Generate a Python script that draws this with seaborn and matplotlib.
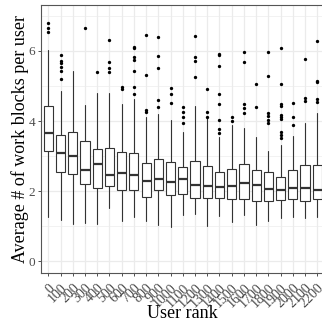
import pandas as pd
import matplotlib
matplotlib.use("Agg")
import matplotlib.pyplot as plt
import seaborn as sns

# values (box stats per user rank bucket)
ranks = ["0", "100", "200", "300", "400", "500", "600", "700", "800", "900",
         "1000", "1100", "1200", "1300", "1400", "1500", "1600", "1700",
         "1800", "1900", "2000", "2100", "2200"]
whislo = [1.25, 1.17, 1.06, 1.10, 1.05, 1.52, 1.14, 1.27, 1.14, 1.04, 0.98, 1.31,
          1.33, 1.00, 1.30, 1.12, 1.31, 1.04, 1.13, 1.23, 1.27, 1.23, 1.27]
q1 = [3.14, 2.54, 2.50, 2.21, 2.09, 2.13, 2.04, 2.03, 1.84, 2.02, 1.89, 1.91,
      1.80, 1.80, 1.80, 1.77, 1.78, 1.71, 1.71, 1.73, 1.76, 1.72, 1.76]
med = [3.65, 3.10, 2.99, 2.61, 2.76, 2.45, 2.52, 2.47, 2.30, 2.35, 2.27, 2.33,
       2.18, 2.14, 2.11, 2.15, 2.24, 2.17, 2.06, 2.03, 2.09, 2.10, 2.04]
q3 = [4.44, 3.59, 3.68, 3.43, 3.21, 3.22, 3.11, 3.09, 2.79, 2.91, 2.82, 2.68,
      2.86, 2.71, 2.55, 2.62, 2.77, 2.60, 2.53, 2.39, 2.60, 2.74, 2.75]
whishi = [6.03, 4.87, 5.43, 4.46, 4.79, 4.79, 4.49, 4.63, 4.12, 4.20, 4.03, 3.70,
          4.43, 4.08, 3.55, 3.90, 3.81, 3.53, 3.13, 3.31, 3.58, 3.93, 4.24]
outliers = [
    [6.81, 6.65, 6.53],
    [5.88, 5.71, 5.67, 5.55, 5.44, 5.21],
    [],
    [6.67],
    [5.39],
    [6.32, 5.69, 5.50, 5.39],
    [4.96, 4.90],
    [6.12, 6.09, 5.82, 5.73, 5.44, 4.96, 4.76],
    [6.46, 5.31, 4.31, 4.26],
    [6.39, 5.87, 5.50, 4.60, 4.39],
    [4.93, 4.76, 4.50],
    [4.39, 4.26, 4.12, 3.93],
    [6.43, 5.82, 5.72, 5.25],
    [4.90, 4.25, 4.11],
    [5.91, 5.89, 5.58, 4.76, 4.48, 4.02, 3.76, 3.65],
    [4.12, 4.00],
    [5.98, 5.69, 4.48, 4.36, 4.24],
    [5.05, 4.39],
    [5.98, 5.28, 4.22, 4.14, 4.03, 3.93],
    [6.08, 5.05, 4.48, 4.43, 4.17, 4.12, 4.07, 3.69, 3.60, 3.51],
    [4.50, 4.12, 3.90],
    [5.76, 4.65, 4.56],
    [6.29, 5.15, 5.11, 4.62, 4.53],
]

sns.set_theme(style="white")
plt.rcParams['font.family'] = ['Liberation Serif', 'DejaVu Serif']

fig = plt.figure(figsize=(3.22, 3.24), dpi=100)
# panel runs a little past the right edge, as in the reference
ax = fig.add_axes([41 / 322, 50.7 / 324, 283.6 / 322, 268.3 / 324])

# outlier points
out_df = pd.DataFrame([(r, v) for r, vals in zip(ranks, outliers) for v in vals],
                      columns=["rank", "value"])
sns.stripplot(data=out_df, x="rank", y="value", order=ranks, jitter=False,
              color="black", size=2.4, linewidth=0, ax=ax, zorder=4)

# boxes from the summary stats
stats = [dict(whislo=a, q1=b, med=c, q3=d, whishi=e, fliers=[])
         for a, b, c, d, e in zip(whislo, q1, med, q3, whishi)]
box_col = "#333333"
ax.bxp(stats, positions=list(range(len(ranks))), widths=0.75, showfliers=False,
       showcaps=False, patch_artist=True,
       boxprops=dict(facecolor="white", edgecolor=box_col, linewidth=0.8),
       medianprops=dict(color=box_col, linewidth=1.6),
       whiskerprops=dict(color=box_col, linewidth=0.8))

ax.set_xlim(-0.6, 22.6)
ax.set_ylim(-0.351, 7.314)

ax.set_xticks(range(len(ranks)))
ax.set_xticklabels(ranks, rotation=45, ha="right", va="top", rotation_mode="anchor",
                   fontsize=10)
ax.set_yticks([0, 2, 4, 6])
ax.set_yticks([1, 3, 5, 7], minor=True)
ax.tick_params(axis="both", which="major", length=2.5, width=0.6, color="#333333",
               labelcolor="#4d4d4d", bottom=True, left=True)
ax.tick_params(axis="y", labelsize=9.5, pad=1.5)
ax.tick_params(axis="x", pad=3.5)
ax.tick_params(axis="y", which="minor", length=0)

ax.set_axisbelow(True)
ax.grid(True, which="major", color="#ebebeb", linewidth=0.9)
ax.grid(True, which="minor", axis="y", color="#ebebeb", linewidth=0.45)

for s in ax.spines.values():
    s.set_visible(True)
    s.set_color("#555555")
    s.set_linewidth(0.8)

ax.set_xlabel("User rank", fontsize=13, color="black")
ax.set_ylabel("Average # of work blocks per user", fontsize=13, color="black")
ax.xaxis.set_label_coords(0.5, -0.12)
ax.yaxis.set_label_coords(-0.044, 0.5)

fig.savefig("out.png", dpi=100)
